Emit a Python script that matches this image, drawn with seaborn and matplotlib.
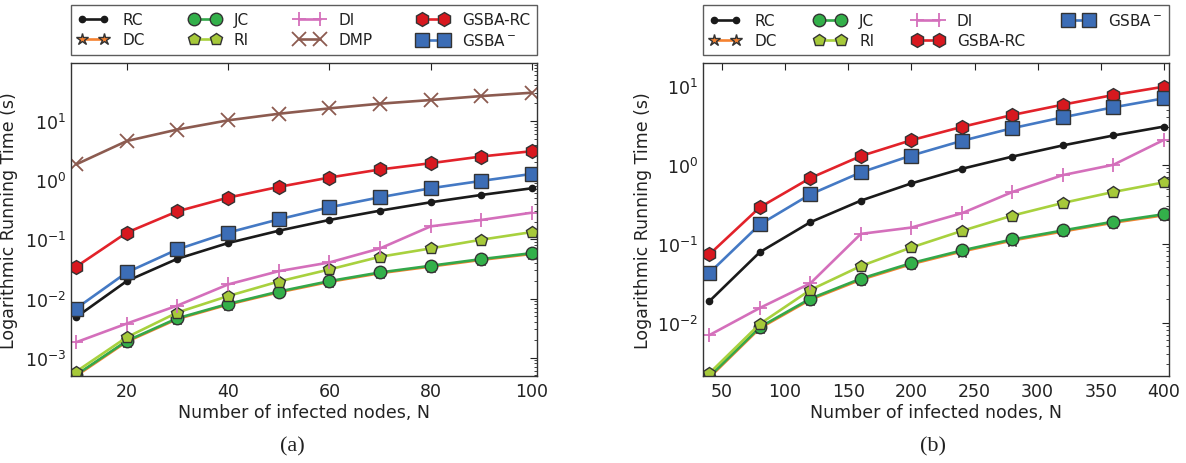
import numpy as np
import pandas as pd
import matplotlib
matplotlib.use("Agg")
import matplotlib.pyplot as plt
import seaborn as sns

# ---------------- data ----------------
N_a = [10, 20, 30, 40, 50, 60, 70, 80, 90, 100]
rc_a = [0.00483, 0.0197, 0.047, 0.0867, 0.140, 0.213, 0.306, 0.424, 0.564, 0.732]
dc_a = [0.00049, 0.00186, 0.0045, 0.0079, 0.0127, 0.0191, 0.0268, 0.0347, 0.0450, 0.0568]
jc_a = [0.00051, 0.00192, 0.00464, 0.0081, 0.0131, 0.0197, 0.0276, 0.0358, 0.0464, 0.0586]
ri_a = [0.00058, 0.00221, 0.0058, 0.011, 0.0194, 0.031, 0.0508, 0.0703, 0.0987, 0.133]
di_a = [0.00182, 0.00377, 0.0076, 0.0173, 0.029, 0.0407, 0.0703, 0.166, 0.213, 0.283]
dmp_a = [1.85, 4.6, 7.2, 10.3, 13.3, 16.4, 19.7, 22.7, 26.5, 30.2]
gsbarc_a = [0.0344, 0.130, 0.298, 0.508, 0.771, 1.11, 1.52, 1.94, 2.52, 3.10]
gsbam_a = [0.00678, 0.0276, 0.0677, 0.130, 0.218, 0.349, 0.515, 0.732, 0.975, 1.28]

N_b = [40, 80, 120, 160, 200, 240, 280, 320, 360, 400]
rc_b = [0.0186, 0.078, 0.187, 0.351, 0.581, 0.889, 1.27, 1.76, 2.35, 3.05]
dc_b = [0.0020, 0.00847, 0.0195, 0.0349, 0.055, 0.0795, 0.1096, 0.1426, 0.1843, 0.229]
jc_b = [0.00206, 0.00873, 0.0201, 0.036, 0.0567, 0.082, 0.113, 0.147, 0.19, 0.236]
ri_b = [0.00227, 0.0096, 0.0259, 0.052, 0.0895, 0.145, 0.227, 0.328, 0.452, 0.598]
di_b = [0.00692, 0.0153, 0.0314, 0.133, 0.16, 0.243, 0.452, 0.74, 1.0, 2.07]
gsbarc_b = [0.073, 0.289, 0.679, 1.29, 2.05, 3.02, 4.28, 5.78, 7.66, 9.77]
gsbam_b = [0.0424, 0.175, 0.422, 0.80, 1.31, 2.01, 2.91, 4.0, 5.35, 6.95]

names = ["RC", "DC", "JC", "RI", "DI", "DMP", "GSBA-RC", "GSBA$^-$"]

# ---------------- style ----------------
sns.set_style("white")
plt.rcParams.update({
    "font.family": ["DejaVu Sans"],
    "xtick.direction": "in", "ytick.direction": "in",
    "xtick.top": True, "ytick.right": True,
    "xtick.major.size": 5, "ytick.major.size": 5,
    "ytick.minor.size": 2.5, "xtick.minor.size": 2.5,
    "axes.edgecolor": "#333333", "axes.linewidth": 1.0,
    "xtick.color": "#222222", "ytick.color": "#222222",
    "text.color": "#222222", "axes.labelcolor": "#222222",
    "mathtext.fontset": "dejavusans",
})

styles = {
    "RC": dict(color="#1a1a1a", marker="o", markersize=4.5, mfc="#1a1a1a", mec="#1a1a1a"),
    "DC": dict(color="#f58231", marker="*", markersize=9, mfc="#f58231", mec="#333333"),
    "JC": dict(color="#33a84a", marker="o", markersize=9, mfc="#33b04a", mec="#333333"),
    "RI": dict(color="#a8d13e", marker="p", markersize=9, mfc="#a6c93a", mec="#333333"),
    "DI": dict(color="#d46fbb", marker="+", markersize=10, mfc="#d46fbb", mec="#d46fbb", mew=1.3),
    "DMP": dict(color="#8c5b50", marker="x", markersize=10, mfc="#8c5b50", mec="#8c5b50", mew=1.3),
    "GSBA-RC": dict(color="#e2222a", marker="h", markersize=10, mfc="#d8181f", mec="#333333"),
    "GSBA$^-$": dict(color="#4479c4", marker="s", markersize=9.5, mfc="#3c6db6", mec="#333333"),
}

fig = plt.figure(figsize=(11.86, 4.64), dpi=100)
axL = fig.add_axes([71/1186, 1-377/464, 466/1186, 313/464])
axR = fig.add_axes([703/1186, 1-377/464, 466/1186, 313/464])

series_a = [rc_a, dc_a, jc_a, ri_a, di_a, dmp_a, gsbarc_a, gsbam_a]
series_b = [rc_b, dc_b, jc_b, ri_b, di_b, None, gsbarc_b, gsbam_b]


def draw(ax, N, series):
    ax.set_yscale("log")
    for name, vals in zip(names, series):
        if vals is None:
            continue
        st = dict(styles[name])
        df = pd.DataFrame({"N": N, "t": vals})
        sns.lineplot(data=df, x="N", y="t", ax=ax, color=st.pop("color"),
                     marker=st.pop("marker"), markersize=st.pop("markersize"),
                     markerfacecolor=st.pop("mfc"), markeredgecolor=st.pop("mec"),
                     markeredgewidth=st.pop("mew", 1.0), linewidth=1.9,
                     label=name, legend=False)
    ax.set_xlabel("Number of infected nodes, N", fontsize=12.5)
    ax.set_ylabel("Logarithmic Running Time (s)", fontsize=12.5)
    ax.tick_params(axis="both", which="major", labelsize=12.5)
    ax.tick_params(axis="x", which="major", pad=4)
    ax.xaxis.set_label_coords(0.5, -0.085)
    for sp in ax.spines.values():
        sp.set_visible(True)
    handles, labels = ax.get_legend_handles_labels()
    leg = ax.legend(handles, labels, loc="lower left", bbox_to_anchor=(0, 1.025, 1, 0.157),
                    mode="expand", ncol=4, borderaxespad=0, numpoints=2, fontsize=11,
                    frameon=True, fancybox=False, edgecolor="#333333",
                    handlelength=2.0, handletextpad=0.9, borderpad=0.45, labelspacing=0.35)
    leg.get_frame().set_linewidth(1.0)


draw(axL, N_a, series_a)
axL.set_xlim(9, 101)
axL.set_ylim(4.9e-4, 96)
axL.set_xticks([20, 40, 60, 80, 100])
axL.yaxis.set_label_coords(-0.114, 0.5)

draw(axR, N_b, series_b)
axR.set_xlim(35, 404)
axR.set_ylim(2.1e-3, 19.5)
axR.set_xticks([50, 100, 150, 200, 250, 300, 350, 400])
axR.yaxis.set_label_coords(-0.109, 0.5)

fig.text(292/1186, 1-447/464, "(a)", ha="center", va="center", fontsize=16,
         family=["Liberation Serif", "DejaVu Serif"])
fig.text(933/1186, 1-447/464, "(b)", ha="center", va="center", fontsize=16,
         family=["Liberation Serif", "DejaVu Serif"])

fig.savefig("out.png", dpi=100)
